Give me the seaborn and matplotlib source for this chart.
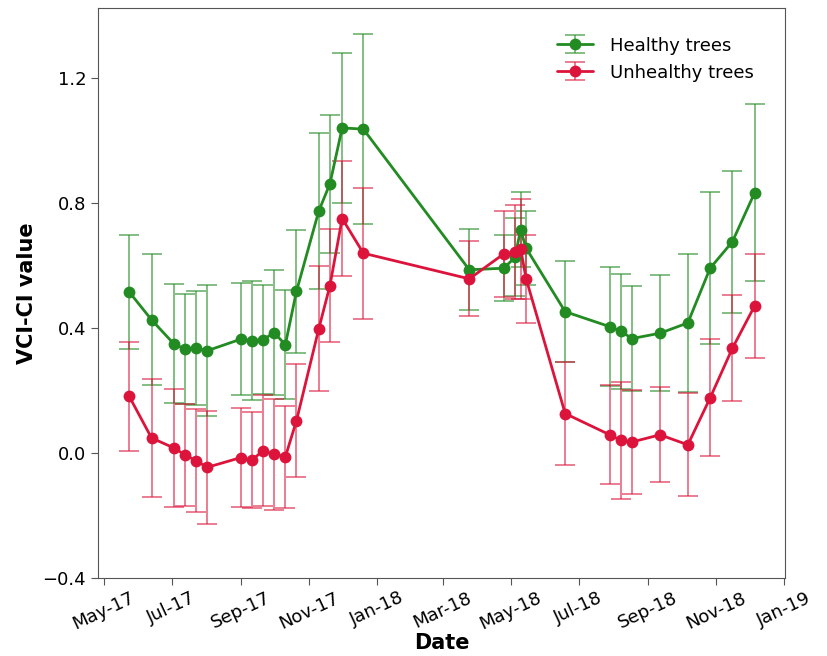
import pandas as pd
import numpy as np
import matplotlib
matplotlib.use('Agg')
import matplotlib.pyplot as plt
import matplotlib.dates as mdates
from matplotlib.lines import Line2D
import seaborn as sns

# acquisition dates
dates = pd.to_datetime([
    '2017-05-24', '2017-06-13', '2017-07-03', '2017-07-13', '2017-07-23', '2017-08-02',
    '2017-09-01', '2017-09-11', '2017-09-21', '2017-10-01', '2017-10-11', '2017-10-21',
    '2017-11-10', '2017-11-20', '2017-12-01', '2017-12-20',
    '2018-03-25', '2018-04-25', '2018-05-05', '2018-05-10', '2018-05-15', '2018-06-19',
    '2018-07-29', '2018-08-08', '2018-08-18', '2018-09-12', '2018-10-07', '2018-10-27',
    '2018-11-16', '2018-12-06'])

healthy = [0.515, 0.426, 0.349, 0.332, 0.335, 0.327, 0.364, 0.359, 0.362, 0.385, 0.346, 0.517,
           0.774, 0.861, 1.040, 1.036, 0.586, 0.591, 0.626, 0.714, 0.655, 0.452,
           0.404, 0.389, 0.366, 0.383, 0.416, 0.591, 0.676, 0.833]
healthy_err = [0.183, 0.210, 0.190, 0.175, 0.182, 0.210, 0.180, 0.190, 0.175, 0.200, 0.175, 0.196,
               0.250, 0.220, 0.240, 0.305, 0.130, 0.105, 0.125, 0.120, 0.118, 0.162,
               0.190, 0.185, 0.167, 0.185, 0.220, 0.244, 0.227, 0.283]

unhealthy = [0.181, 0.048, 0.016, -0.006, -0.025, -0.046, -0.015, -0.023, 0.007, -0.004, -0.013, 0.103,
             0.397, 0.535, 0.750, 0.639, 0.557, 0.637, 0.642, 0.654, 0.557, 0.126,
             0.058, 0.040, 0.035, 0.058, 0.026, 0.176, 0.335, 0.471]
unhealthy_err = [0.174, 0.190, 0.190, 0.163, 0.165, 0.180, 0.158, 0.153, 0.178, 0.178, 0.162, 0.180,
                 0.200, 0.180, 0.185, 0.210, 0.120, 0.137, 0.150, 0.160, 0.140, 0.165,
                 0.158, 0.187, 0.167, 0.152, 0.165, 0.187, 0.170, 0.166]

groups = ['Healthy trees', 'Unhealthy trees']
colors = {'Healthy trees': 'forestgreen', 'Unhealthy trees': 'crimson'}

df = pd.concat([
    pd.DataFrame({'date': dates, 'value': healthy, 'err': healthy_err, 'group': groups[0]}),
    pd.DataFrame({'date': dates, 'value': unhealthy, 'err': unhealthy_err, 'group': groups[1]}),
], ignore_index=True)

sns.set_style('ticks')
plt.rcParams['font.family'] = ['DejaVu Sans']
plt.rcParams['text.color'] = 'black'
plt.rcParams['axes.labelcolor'] = 'black'
plt.rcParams['xtick.color'] = 'black'
plt.rcParams['ytick.color'] = 'black'

fig = plt.figure(figsize=(8.27, 6.56), dpi=100)
ax = fig.add_axes([0.1185, 0.119, 0.8305, 0.869])

# error bars first, lines and dots on top
bars = {}
for g in groups:
    sub = df[df.group == g]
    bars[g] = ax.errorbar(sub['date'], sub['value'], yerr=sub['err'], fmt='none',
                          ecolor=colors[g], alpha=0.6, capsize=7, elinewidth=1.3, capthick=1.3)

sns.lineplot(data=df, x='date', y='value', hue='group', palette=colors, marker='o',
             markersize=8.5, markeredgewidth=0, linewidth=2, legend=False, ax=ax)

handles = [(bars[g], Line2D([], [], color=colors[g], marker='o', markersize=8.5,
                            markeredgewidth=0, linewidth=2)) for g in groups]
ax.legend(handles, groups, loc='upper right', frameon=False, fontsize=13,
          bbox_to_anchor=(0.978, 0.978), handletextpad=0.9)

ax.set_xlim(pd.Timestamp('2017-04-26'), pd.Timestamp('2019-01-02'))
ax.set_ylim(-0.4, 1.424)
ax.set_yticks([-0.4, 0.0, 0.4, 0.8, 1.2])
ax.xaxis.set_major_locator(mdates.MonthLocator(bymonth=[1, 3, 5, 7, 9, 11]))
ax.xaxis.set_major_formatter(mdates.DateFormatter('%b-%y'))
ax.tick_params(axis='both', labelsize=13, length=5, color='#555555')
ax.tick_params(axis='x', rotation=25, pad=3)
for lab in ax.get_xticklabels():
    lab.set_ha('center')

for s in ax.spines.values():
    s.set_color('#555555')
    s.set_visible(True)

ax.set_xlabel('Date', fontsize=15, fontweight='bold', labelpad=0)
ax.set_ylabel('VCI-CI value', fontsize=15, fontweight='bold')

fig.savefig('out.png', dpi=100)
